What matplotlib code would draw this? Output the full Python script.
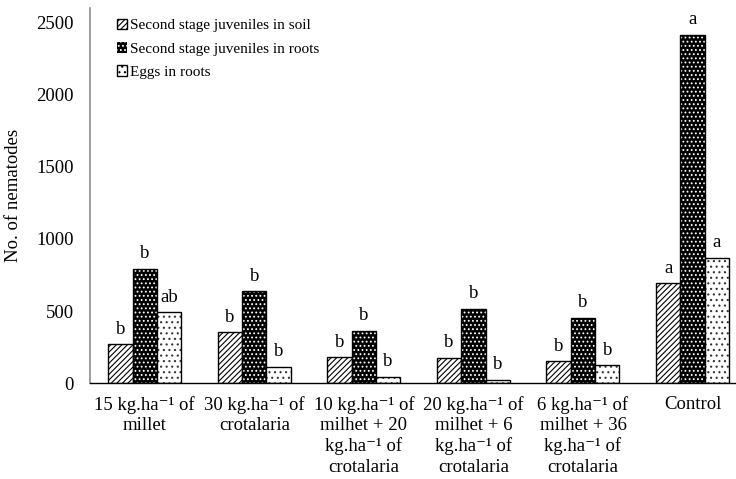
import matplotlib
matplotlib.use("Agg")
import matplotlib.pyplot as plt
import numpy as np
from matplotlib.patches import Patch

categories = ["15 kg.ha\u207b\u00b9 of\nmillet",
              "30 kg.ha\u207b\u00b9 of\ncrotalaria",
              "10 kg.ha\u207b\u00b9 of\nmilhet + 20\nkg.ha\u207b\u00b9 of\ncrotalaria",
              "20 kg.ha\u207b\u00b9 of\nmilhet + 6\nkg.ha\u207b\u00b9 of\ncrotalaria",
              "6 kg.ha\u207b\u00b9 of\nmilhet + 36\nkg.ha\u207b\u00b9 of\ncrotalaria",
              "Control"]
soil = [272, 353, 180, 177, 152, 692]
roots = [792, 637, 364, 517, 454, 2414]
eggs = [492, 113, 46, 23, 125, 868]
soil_letters = ["b", "b", "b", "b", "b", "a"]
roots_letters = ["b", "b", "b", "b", "b", "a"]
eggs_letters = ["ab", "b", "b", "b", "b", "a"]
series_names = ["Second stage juveniles in soil",
                "Second stage juveniles in roots",
                "Eggs in roots"]

plt.rcParams['font.family'] = ['Liberation Serif', 'DejaVu Serif']
plt.rcParams['hatch.linewidth'] = 0.8

fig = plt.figure(figsize=(7.36, 4.79), dpi=100)
ax = fig.add_axes([89.9/736, 1 - 383.3/479, 657.4/736, 375/479])

x = np.arange(len(categories))
w = 0.222

ax.bar(x - w, soil, w, facecolor="white", edgecolor="black", hatch="//////", linewidth=1.0)
ax.bar(x, roots, w, facecolor="black", edgecolor="white", hatch="....", linewidth=0)
ax.bar(x, roots, w, facecolor="none", edgecolor="black", linewidth=1.0)
ax.bar(x + w, eggs, w, facecolor="white", edgecolor="#333333", hatch="...", linewidth=0)
ax.bar(x + w, eggs, w, facecolor="none", edgecolor="black", linewidth=1.0)

for xs, vals, labs in [(x - w, soil, soil_letters), (x, roots, roots_letters), (x + w, eggs, eggs_letters)]:
    for xi, v, l in zip(xs, vals, labs):
        ax.text(xi, v + 45, l, ha="center", va="bottom", fontsize=13.5)

ax.set_ylim(0, 2597)
ax.set_xlim(-0.5, 5.5)
ax.set_yticks([0, 500, 1000, 1500, 2000, 2500])
ax.set_xticks(x)
ax.set_xticklabels(categories, fontsize=13.5, linespacing=1.25)
ax.tick_params(axis="y", length=0, labelsize=13.5, pad=11.5)
ax.tick_params(axis="x", length=0, pad=9)
for s in ["top", "right"]:
    ax.spines[s].set_visible(False)
ax.spines["left"].set_color("#8c8c8c")
ax.spines["left"].set_linewidth(1.2)
ax.spines["bottom"].set_color("black")
ax.spines["bottom"].set_linewidth(1.0)
ax.set_ylabel("No. of nematodes", fontsize=13.5)
ax.yaxis.set_label_coords(-0.103, 0.5)

h1 = Patch(facecolor="white", edgecolor="black", hatch="//////")
h2 = Patch(facecolor="black", edgecolor="white", hatch="....", linewidth=0)
h3 = Patch(facecolor="white", edgecolor="black", hatch="...")
ax.legend([h1, h2, h3], series_names,
          loc="upper left", bbox_to_anchor=(0.022, 1.005), frameon=False,
          fontsize=11, handlelength=0.7, handleheight=0.7,
          handletextpad=0.15, labelspacing=0.62, borderaxespad=0.4)

fig.savefig("out.png", dpi=100)
